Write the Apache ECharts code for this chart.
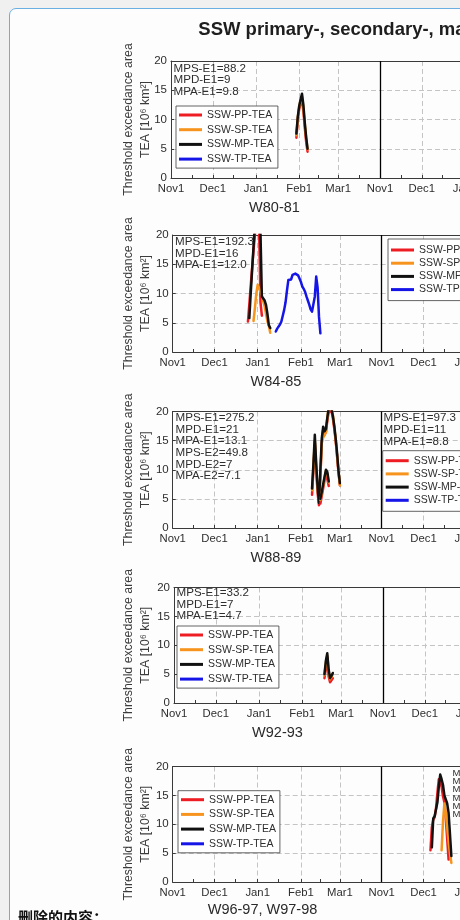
<!DOCTYPE html>
<html>
<head>
<meta charset="utf-8">
<script src="https://cdn.jsdelivr.net/npm/echarts@6/dist/echarts.min.js"></script>
<style>
html,body{margin:0;padding:0;width:460px;height:920px;overflow:hidden;background:#f0f0f0;}
#card{position:absolute;left:9px;top:8px;width:720px;height:1000px;background:#fdfdfd;border:1px solid #6aaee2;border-radius:7px;}
#chart{position:absolute;left:0;top:0;width:640px;height:940px;}
</style>
</head>
<body>
<div id="card"></div>
<div id="chart"></div>
<script>
// ---------- axis ticks (days since Nov 1 of the first winter; two winters of 150 days) ----------
const monthTickDays   = [0, 30, 61, 92, 120, 150, 180, 211, 242, 270];
const monthTickLabels = ['Nov1','Dec1','Jan1','Feb1','Mar1','Nov1','Dec1','Jan1','Feb1','Mar1'];
const midMonthTickDays = [15, 45, 76, 106, 135, 165, 195, 226, 256, 285];
const axisMaxDays = 300;
const separatorDay = 150;
const yMin = 0, yMax = 20, yStep = 5;

const seriesNames = ['SSW-PP-TEA','SSW-SP-TEA','SSW-MP-TEA','SSW-TP-TEA'];
const panelLabels = ['W80-81','W84-85','W88-89','W92-93','W96-97, W97-98'];

// ---------- W80-81 ----------
const w80Days = [90,91,92,93,94,95,96,97,98];
const w80PP = [6.9,10.0,11.8,12.8,13.3,11.5,8.7,6.2,4.5];
const w80SP = [7.3,10.3,12.2,13.3,14.0,12.0,9.2,6.8,4.9];
const w80MP = [7.6,10.5,12.3,13.4,14.4,12.5,9.5,7.0,5.0];
const w80Notes = ['MPS-E1=88.2','MPD-E1=9','MPA-E1=9.8'];

// ---------- W84-85 ----------
const w84DaysPP = [54,55,56,57,58,59,60,61,62,63,64];
const w84PP = [5.2,8.2,11.3,14.4,17.3,20.0,23.0,24.0,21.5,8.5,6.2];
const w84DaysSP = [58,59,60,61,62,63,64,65,66,67,68,69,70];
const w84SP = [5.3,7.5,10.0,11.5,11.3,10.3,9.6,8.6,7.8,6.5,5.2,4.5,3.3];
const w84DaysMP = [55,56,57,58,59,60,61,62,63,64,65,66,67,68,69,70];
const w84MP = [5.8,10.0,14.0,18.0,22.0,25.0,26.5,25.0,20.5,9.5,9.3,8.8,8.0,6.5,4.6,4.1];
const w84DaysTP = [74,75,76,77,78,79,80,81,82,83,84,85,86,87,88,89,90,91,92,93,94,95,96,97,98,99,100,101,102,103,104,105,106];
const w84TP = [3.5,4.0,4.3,4.7,5.2,6.2,7.2,8.5,10.5,12.3,12.0,12.4,13.2,13.4,13.4,13.3,13.1,12.8,12.0,11.2,10.8,10.3,9.5,8.8,8.1,7.3,6.9,7.2,9.5,12.9,11.0,6.0,3.2];
const w84Notes = ['MPS-E1=192.3','MPD-E1=16','MPA-E1=12.0'];

// ---------- W88-89 ----------
const w88E1Days = [100,101,102,103,104,105,106,107,108,109,110,111,112,113,114,115,116,117,118,119,120];
const w88E1PP = [5.7,10.0,14.5,10.0,6.0,3.9,9.0,14.5,16.8,16.0,16.5,18.5,20.0,20.3,20.0,18.8,17.0,15.0,12.3,9.5,7.3];
const w88E1SP = [6.5,10.5,15.0,10.5,6.5,4.6,9.0,14.8,15.5,15.2,16.5,19.0,20.8,21.0,20.6,19.3,17.3,15.0,12.3,9.8,7.3];
const w88E1MP = [6.8,11.0,16.0,11.0,7.0,4.3,10.0,15.4,17.4,16.6,17.0,19.0,20.6,20.8,20.4,19.2,17.5,15.3,12.8,9.8,7.7];
const w88E2Days = [106,107,108,109,110,111,112];
const w88E2PP = [4.2,5.5,6.8,8.2,9.5,9.4,7.2];
const w88E2SP = [4.8,6.0,7.3,8.6,9.8,9.3,7.8];
const w88E2MP = [5.0,6.2,7.5,8.8,10.0,9.6,8.0];
const w88Notes = ['MPS-E1=275.2','MPD-E1=21','MPA-E1=13.1','MPS-E2=49.8','MPD-E2=7','MPA-E2=7.1'];
const w89Notes = ['MPS-E1=97.3','MPD-E1=11','MPA-E1=8.8'];

// ---------- W92-93 ----------
const w92Days = [108,109,110,111,112,113,114];
const w92PP = [4.3,6.0,7.0,4.6,3.6,3.9,4.3];
const w92SP = [4.8,7.0,8.2,5.5,4.1,4.5,5.0];
const w92MP = [5.0,7.3,8.6,5.8,4.3,4.7,5.2];
const w92Notes = ['MPS-E1=33.2','MPD-E1=7','MPA-E1=4.7'];

// ---------- W96-97, W97-98 (second winter, offset by 150 days) ----------
const w97DaysPP = [185,186,187,188,189,190,191,192,193,194,195,196,197,198];
const w97PP = [5.5,9.5,10.8,11.2,12.8,15.5,17.8,17.8,16.5,14.8,13.8,11.0,7.5,3.9];
const w97DaysSP = [193,194,195,196,197,198,199,200];
const w97SP = [5.5,10.5,13.6,12.0,9.5,7.0,5.0,3.3];
const w97DaysMP = [186,187,188,189,190,191,192,193,194,195,196,197,198,199,200];
const w97MP = [6.0,11.0,11.4,11.6,13.8,16.5,18.6,17.8,16.8,15.0,14.3,13.6,12.0,8.3,4.5];
const w97Notes = ['MPS-E1=130.6','MPD-E1=15','MPA-E1=8.7','MPS-E2=40.2','MPD-E2=6','MPA-E2=6.7'];

// ---------- styling / layout ----------
const FONT = '"Liberation Sans", Arial, Helvetica, sans-serif';
const AXIS_COLOR = '#3a3a3a';
const TEXT_COLOR = '#2e2e2e';
const GRID_COLOR = '#c4c4c4';
const seriesColors = ['#ee1d23', '#f7941d', '#111111', '#1515e8'];
const PX_PER_DAY = 1.3933;

const gridLayout = [
  {left:171,   top:61,    height:117},
  {left:172.7, top:235,   height:117},
  {left:172.7, top:411.5, height:116.5},
  {left:174,   top:587.5, height:115.5},
  {left:172.7, top:766.5, height:115.5}
];
const legendLayout = [
  {left:176,   top:106,   gap:2.7, pad:[3,4,3,3]},
  {left:388,   top:239,   gap:1.2, pad:[5,4,5,3]},
  {left:382.7, top:450.7, gap:1.2, pad:[4,4,5,3]},
  {left:177,   top:626,   gap:2.7, pad:[3,4,3,3]},
  {left:178,   top:790.7, gap:2.7, pad:[3,4,3,3]}
];
const xLabelLayout = [
  {x:274.5, y:208}, {x:276, y:382}, {x:276, y:557.5}, {x:277.5, y:733.3}, {x:262.5, y:910}
];
const noteLayout = [
  {notes:w80Notes, x:173.5, y:68.5, step:11.4, size:11.6},
  {notes:w84Notes, x:175,   y:241.7, step:11.7, size:11.6},
  {notes:w88Notes, x:175.5, y:418, step:11.6, size:11.6},
  {notes:w89Notes, x:383.5, y:418, step:11.8, size:11.6},
  {notes:w92Notes, x:176.5, y:593, step:11.4, size:11.6},
  {notes:w97Notes, x:452.5, y:773, step:8.3, size:9.5}
];

const panelSeries = [
  [[0,w80Days,w80PP],[1,w80Days,w80SP],[2,w80Days,w80MP]],
  [[0,w84DaysPP,w84PP],[1,w84DaysSP,w84SP],[2,w84DaysMP,w84MP],[3,w84DaysTP,w84TP]],
  [[0,w88E1Days,w88E1PP],[1,w88E1Days,w88E1SP],[2,w88E1Days,w88E1MP],
   [0,w88E2Days,w88E2PP],[1,w88E2Days,w88E2SP],[2,w88E2Days,w88E2MP]],
  [[0,w92Days,w92PP],[1,w92Days,w92SP],[2,w92Days,w92MP]],
  [[0,w97DaysPP,w97PP],[1,w97DaysSP,w97SP],[2,w97DaysMP,w97MP]]
];

const allTickDays = monthTickDays.concat(midMonthTickDays).sort((a,b)=>a-b);
const labelByDay = {};
monthTickDays.forEach((d,k)=>{ labelByDay[d] = monthTickLabels[k]; });

const grid = [], xAxis = [], yAxis = [], series = [], legend = [], graphic = [];

function txt(x, y, text, size, o) {
  o = o || {};
  const align = o.align || 'left', va = o.va || 'middle';
  return {
    type:'text', x:x, y:y, rotation:o.rotation || 0, silent:true, z:100,
    style:{
      text:text, fill:o.color || TEXT_COLOR, fontSize:size,
      fontFamily:o.family || FONT, fontWeight:o.weight || 'normal',
      align:align, verticalAlign:va, textAlign:align, textVerticalAlign:va
    }
  };
}

gridLayout.forEach((g, i) => {
  grid.push({left:g.left, top:g.top, width:axisMaxDays*PX_PER_DAY, height:g.height,
             containLabel:false, outerBoundsMode:'none'});
  xAxis.push({
    gridIndex:i, type:'value', min:0, max:axisMaxDays, position:'bottom',
    axisLine:{show:true, onZero:false, lineStyle:{color:AXIS_COLOR, width:1}},
    axisTick:{show:true, inside:true, length:3, customValues:allTickDays, lineStyle:{color:AXIS_COLOR}},
    axisLabel:{show:true, customValues:monthTickDays, formatter:v => labelByDay[Math.round(v)] || '',
               fontSize:11.3, color:TEXT_COLOR, fontFamily:FONT, margin:5},
    splitLine:{show:false}
  });
  xAxis.push({
    gridIndex:i, type:'value', min:0, max:axisMaxDays, position:'top',
    axisLine:{show:true, onZero:false, lineStyle:{color:AXIS_COLOR, width:1}},
    axisTick:{show:false, customValues:monthTickDays},
    axisLabel:{show:false},
    splitLine:{show:true, lineStyle:{color:GRID_COLOR, type:[5,3], width:1}}
  });
  yAxis.push({
    gridIndex:i, type:'value', min:yMin, max:yMax, interval:yStep, position:'left',
    axisLine:{show:true, onZero:false, lineStyle:{color:AXIS_COLOR, width:1}},
    axisTick:{show:true, inside:true, length:3, lineStyle:{color:AXIS_COLOR}},
    axisLabel:{fontSize:11.5, color:TEXT_COLOR, fontFamily:FONT, margin:4},
    splitLine:{show:true, lineStyle:{color:GRID_COLOR, type:[5,3], width:1}}
  });

  panelSeries[i].forEach((s, k) => {
    const [ni, days, vals] = s;
    const ser = {
      type:'line', name:seriesNames[ni], xAxisIndex:2*i, yAxisIndex:i,
      data: days.map((d, j) => [d, vals[j]]),
      showSymbol:false, symbol:'none', color:seriesColors[ni],
      lineStyle:{width:2.5, color:seriesColors[ni], join:'round', cap:'round'},
      clip:true, animation:false, silent:true, z:3
    };
    if (k === 0) {
      ser.markLine = {
        silent:true, symbol:['none','none'], label:{show:false}, animation:false,
        lineStyle:{color:'#000', width:1.3, type:'solid'},
        emphasis:{disabled:true},
        data:[{xAxis:separatorDay}]
      };
    }
    series.push(ser);
  });

  const L = legendLayout[i];
  legend.push({
    orient:'vertical', left:L.left, top:L.top, data:seriesNames.slice(),
    icon:'rect', itemWidth:23, itemHeight:3, itemGap:L.gap, padding:L.pad,
    backgroundColor:'#ffffff', borderColor:'#3c3c3c', borderWidth:0.8, borderRadius:0,
    selectedMode:false, z:10,
    textStyle:{fontSize:10.5, color:TEXT_COLOR, fontFamily:FONT, lineHeight:12}
  });

  const cy = g.top + g.height/2;
  graphic.push(txt(128.5, cy, 'Threshold exceedance area', 12.3, {rotation:Math.PI/2, align:'center', color:'#3c3c3c'}));
  graphic.push(txt(145.5, cy, 'TEA [10\u2076 km\u00B2]', 12.3, {rotation:Math.PI/2, align:'center', color:'#3c3c3c'}));
  graphic.push(txt(xLabelLayout[i].x, xLabelLayout[i].y, panelLabels[i], 14.5, {align:'center', color:'#2a2a2a'}));
});

noteLayout.forEach(n => {
  n.notes.forEach((t, k) => graphic.push(txt(n.x, n.y + k*n.step, t, n.size)));
});

graphic.push(txt(198.3, 29.5, 'SSW primary-, secondary-, major- and tertiary-phase TEA', 18.5,
                 {weight:'bold', color:'#1e1e1e'}));
graphic.push(txt(18, 910, '删除的内容：', 15,
                 {weight:'bold', color:'#111', va:'top', family:'"Noto Sans CJK SC", sans-serif'}));

const chart = echarts.init(document.getElementById('chart'), null, {renderer:'canvas', width:640, height:940});
chart.setOption({
  animation:false,
  backgroundColor:'transparent',
  grid, xAxis, yAxis, series, legend, graphic,
  tooltip:{show:false}
});
</script>
</body>
</html>
